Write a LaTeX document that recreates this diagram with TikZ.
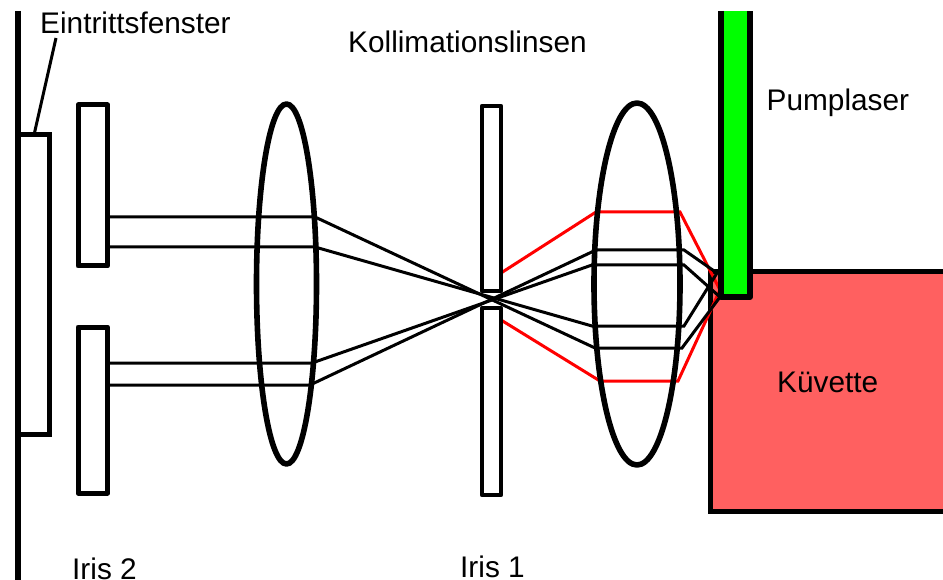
\documentclass[tikz,border=0pt]{standalone}
\usepackage{fontspec}
\setmainfont{Liberation Sans}
\definecolor{cuv}{HTML}{FF6060}
\definecolor{pump}{HTML}{00FF00}
\tikzset{
  heavy/.style={draw=black,line width=5.6pt,line join=round},
  irisbox/.style={draw=black,line width=4.6pt,line join=round},
  ray/.style={draw=black,line width=3pt},
  redray/.style={draw=red,line width=3pt},
  lbl/.style={anchor=base west,inner sep=0pt,font=\fontsize{29.8pt}{32pt}\selectfont},
}
\begin{document}
\begin{tikzpicture}[x=1pt,y=-1pt]
\useasboundingbox (0,0) rectangle (943,580);
% cuvette
\draw[heavy,fill=cuv,line join=miter,line width=5pt] (710.5,272) rectangle (960,511);
% red rays
\draw[redray] (501,273) -- (596,212) -- (680,212) -- (720,290);
\draw[redray] (501,320) -- (600,381) -- (678,381) -- (720,290);
% black rays
\coordinate (a1) at (107,217); \coordinate (a2) at (315,217);
\coordinate (a3) at (595,348); \coordinate (a4) at (682,348);
\coordinate (f2) at (720,297); \coordinate (f1) at (717,273);
\draw[ray] (a1) -- (a2) -- (a3) -- (a4) -- (f2);
\draw[ray] (107,247) -- (315,247) -- (592,326) -- (684,326) -- (f1);
\draw[ray] (107,363) -- (312,363) -- (592,265) -- (684,265) -- (f2);
\draw[ray] (107,385) -- (310,385) -- (596,250) -- (684,250) -- (f1);
% pump beam
\fill[pump] (720.5,11) rectangle (750,297);
\draw[heavy,line width=6pt] (720.5,11) -- (720.5,297) -- (750,297) -- (750,11);
% entrance wall and window
\draw[draw=black,line width=5.6pt] (18,11) -- (18,580);
\draw[heavy,line join=miter,line width=5pt] (18,135) -- (49,135) -- (49,434) -- (18,434);
\draw[line width=3pt] (56,38) -- (34,135);
% irises
\draw[irisbox,line width=5pt] (78,105) rectangle (107.5,266);
\draw[irisbox,line width=5pt] (78,327) rectangle (107.5,493);
\draw[irisbox] (482,106) rectangle (501,291);
\draw[irisbox] (482,308) rectangle (501,495);
% lenses
\draw[heavy] (286.5,284) ellipse [x radius=30,y radius=180];
\draw[heavy] (637,284) ellipse [x radius=43,y radius=181];
% labels
\node[lbl] (t1) at (40,34) {Eintrittsfenster};
\node[lbl] (t2) at (348,53) {Kollimationslinsen};
\node[lbl] (t3) at (766.5,111) {Pumplaser};
\node[lbl] (t4) at (777,392) {Küvette};
\node[lbl] (t5) at (72,579) {Iris 2};
\node[lbl] (t6) at (460,577) {Iris 1};
\end{tikzpicture}
\end{document}
